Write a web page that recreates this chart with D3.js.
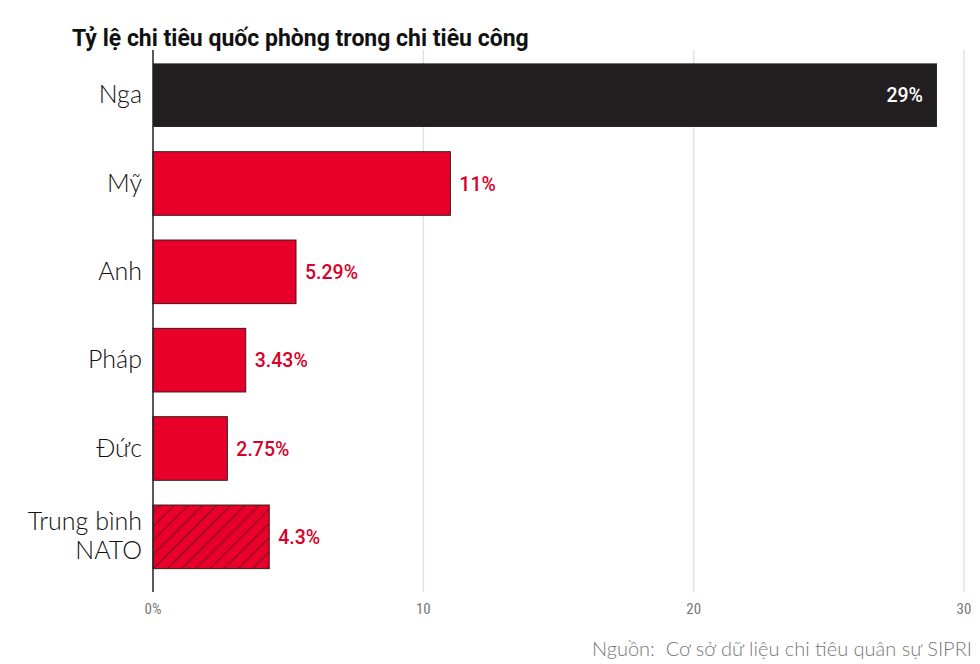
<!DOCTYPE html>
<html><head><meta charset="utf-8">
<script src="https://cdn.jsdelivr.net/npm/d3@7"></script>
<style>body{margin:0;background:#fff}</style></head>
<body><svg id="c" width="980" height="664"></svg>
<script>
const categories = ["Nga","Mỹ","Anh","Pháp","Đức","Trung bình NATO"];
const values = [29, 11, 5.29, 3.43, 2.75, 4.3];
const valueLabels = ["29%","11%","5.29%","3.43%","2.75%","4.3%"];
const ticks = [0,10,20,30];
const tickLabels = ["0%","10","20","30"];

const svg = d3.select("#c");
const x = d3.scaleLinear().domain([0,30]).range([153,964]);
const y = d3.scaleBand().domain(categories).range([51,581]).paddingInner(0.28).paddingOuter(0.14);

const defs = svg.append("defs");
const pat = defs.append("pattern").attr("id","hatch").attr("patternUnits","userSpaceOnUse")
  .attr("width",10).attr("height",10).attr("patternTransform","rotate(45)");
pat.append("rect").attr("width",10).attr("height",10).attr("fill","#e8002a");
pat.append("line").attr("x1",0).attr("y1",0).attr("x2",0).attr("y2",10).attr("stroke","#3a1a1a").attr("stroke-width",1.3);

svg.append("text").attr("x",72).attr("y",46).text("Tỷ lệ chi tiêu quốc phòng trong chi tiêu công")
  .attr("font-family","Roboto, sans-serif").attr("font-weight",700).attr("font-size",23).attr("fill","#111");

svg.append("g").selectAll("line").data(ticks.slice(1)).join("line")
  .attr("x1",d=>x(d)).attr("x2",d=>x(d)).attr("y1",50).attr("y2",592)
  .attr("stroke","#e2e2e2").attr("stroke-width",1.5);

svg.append("g").selectAll("rect").data(categories).join("rect")
  .attr("x",x(0)).attr("y",d=>y(d)).attr("height",y.bandwidth())
  .attr("width",(d,i)=>x(values[i])-x(0))
  .attr("fill",(d,i)=>i===0?"#231f20":(i===5?"url(#hatch)":"#e8002a"))
  .attr("stroke",(d,i)=>i===0?"none":"#3a1a1a").attr("stroke-width",1);

svg.append("g").selectAll("text").data(categories).join("text")
  .attr("x",(d,i)=>i===0?x(values[i])-14:x(values[i])+9)
  .attr("y",d=>y(d)+y.bandwidth()/2+7)
  .attr("text-anchor",(d,i)=>i===0?"end":"start")
  .attr("font-family","Roboto, sans-serif").attr("font-weight",500).attr("font-size",19.5)
  .attr("fill",(d,i)=>i===0?"#fff":"#d8002a")
  .text((d,i)=>valueLabels[i]);

const lab = svg.append("g").selectAll("text").data(categories).join("text")
  .attr("text-anchor","end").attr("x",142)
  .attr("font-family","Lato, sans-serif").attr("font-weight",300).attr("font-size",25).attr("fill","#111");
lab.each(function(d){
  const parts = d==="Trung bình NATO"?["Trung bình","NATO"]:[d];
  const cy = y(d)+y.bandwidth()/2;
  parts.forEach((p,j)=>d3.select(this).append("tspan").attr("x",142)
    .attr("y",cy+8+(j-(parts.length-1)/2)*29).text(p));
});

svg.append("line").attr("x1",x(0)).attr("x2",x(0)).attr("y1",50).attr("y2",592)
  .attr("stroke","#222").attr("stroke-width",1.5);

svg.append("g").selectAll("text").data(ticks).join("text")
  .attr("x",d=>x(d)).attr("y",614).attr("text-anchor","middle")
  .attr("font-family","Roboto Condensed, Roboto, sans-serif").attr("font-size",15).attr("fill","#777")
  .text((d,i)=>tickLabels[i]);

svg.append("text").attr("x",972).attr("y",656).attr("text-anchor","end")
  .attr("font-family","Lato, sans-serif").attr("font-weight",300).attr("font-size",20).attr("fill","#777")
  .attr("xml:space","preserve").text("Nguồn:  Cơ sở dữ liệu chi tiêu quân sự SIPRI");
</script></body></html>
